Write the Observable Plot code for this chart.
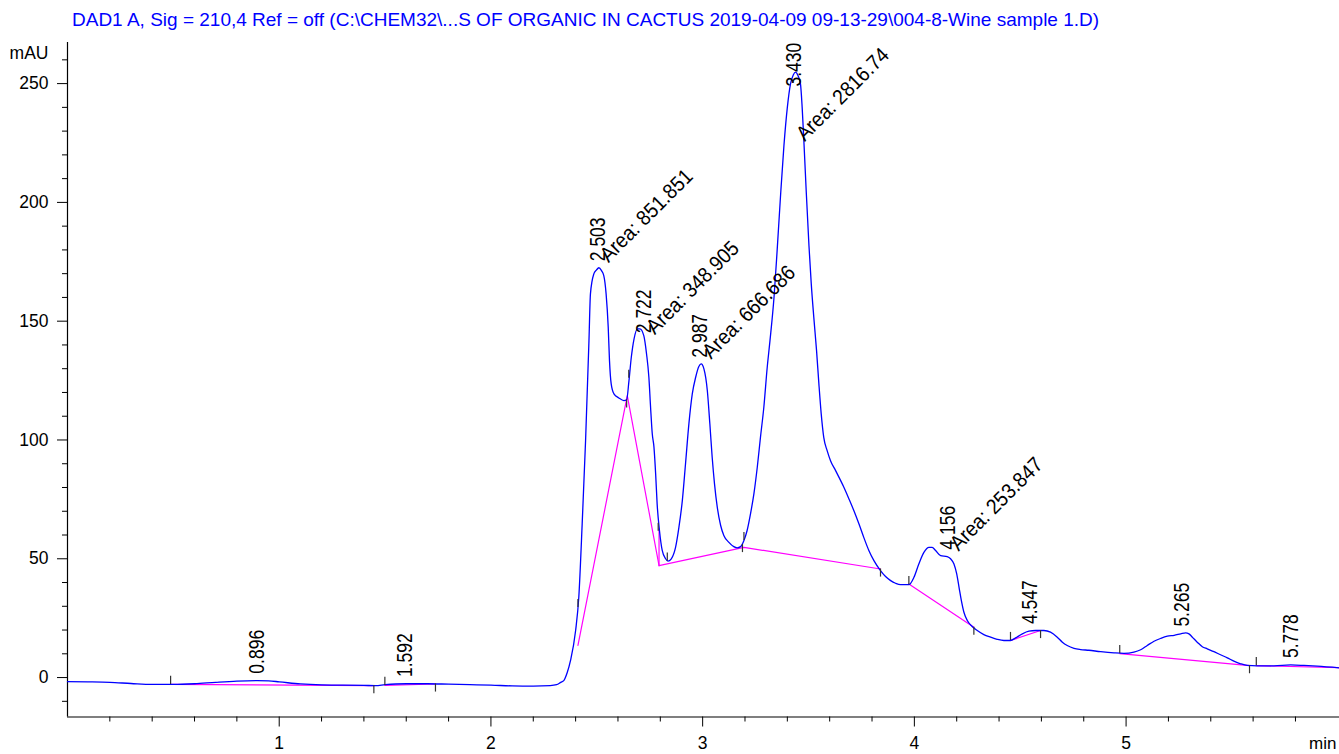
<!DOCTYPE html>
<html><head><meta charset="utf-8">
<script src="https://cdn.jsdelivr.net/npm/d3@7"></script>
<script src="https://cdn.jsdelivr.net/npm/@observablehq/plot@0.6"></script>
<style>
html,body{margin:0;padding:0;background:#fff;overflow:hidden;}
#title{height:34px;box-sizing:border-box;padding:10px 0 0 72px;font:19px "Liberation Sans",Arial,sans-serif;line-height:20px;color:#0000ff;white-space:nowrap;}
</style></head><body>
<div id="title"></div>
<div id="chart"></div>
<script>
// ---- signal (retention time in min, absorbance in mAU) ----
const signalTime = [0.00,0.10,0.20,0.30,0.40,0.50,0.60,0.70,0.80,0.896,0.95,1.00,1.10,1.20,1.30,1.40,1.455,1.50,1.55,1.60,1.70,1.80,1.90,2.00,2.10,2.20,2.28,2.31,2.33,2.344,2.36,2.376,2.40,2.415,2.431,2.447,2.463,2.470,2.486,2.498,2.510,2.522,2.533,2.544,2.554,2.560,2.568,2.581,2.604,2.628,2.641,2.652,2.663,2.676,2.692,2.704,2.722,2.735,2.746,2.754,2.762,2.770,2.778,2.785,2.796,2.809,2.825,2.836,2.852,2.872,2.888,2.904,2.919,2.935,2.951,2.967,2.982,2.993,3.006,3.022,3.034,3.045,3.056,3.069,3.085,3.100,3.124,3.147,3.163,3.179,3.195,3.210,3.226,3.242,3.258,3.273,3.289,3.305,3.318,3.337,3.352,3.368,3.384,3.400,3.415,3.428,3.439,3.450,3.462,3.470,3.478,3.489,3.502,3.513,3.525,3.538,3.549,3.560,3.572,3.588,3.604,3.628,3.667,3.691,3.714,3.738,3.761,3.785,3.809,3.840,3.864,3.888,3.911,3.935,3.974,3.998,4.021,4.045,4.069,4.084,4.100,4.124,4.155,4.171,4.187,4.200,4.211,4.222,4.234,4.250,4.273,4.297,4.328,4.360,4.391,4.423,4.454,4.478,4.510,4.541,4.573,4.612,4.643,4.675,4.699,4.722,4.754,4.785,4.824,4.880,4.943,4.990,5.037,5.069,5.100,5.132,5.164,5.195,5.227,5.258,5.281,5.297,5.313,5.336,5.360,5.383,5.415,5.446,5.478,5.509,5.541,5.572,5.619,5.698,5.777,5.840,5.903,6.008];
const signalMAU = [-1.7,-1.8,-2.0,-2.5,-2.9,-2.9,-2.6,-2.0,-1.5,-1.3,-1.4,-1.8,-2.7,-3.1,-3.2,-3.3,-3.4,-3.0,-2.7,-2.6,-2.6,-2.8,-3.0,-3.2,-3.5,-3.6,-3.4,-3.0,-2.0,-1.3,2.0,7.2,19.8,33.8,64.7,99.7,141.8,161.5,169.9,171.5,172.5,171.3,169.2,161.5,147.4,133.4,123.6,119.4,117.7,116.6,116.9,125.0,134.8,142.6,146.8,146.8,143.9,136.2,126.4,113.8,102.6,97.0,85.7,73.1,61.9,53.5,50.0,49.0,50.0,54.8,63.3,74.5,89.9,106.8,119.4,126.4,130.9,132.0,129.9,120.8,106.8,92.7,81.5,71.7,64.0,59.8,56.9,55.1,54.6,55.1,57.7,61.9,68.9,77.3,88.5,101.1,113.8,130.6,141.8,160.0,180.0,203.0,224.0,240.0,249.9,253.6,254.8,253.4,249.9,240.0,226.0,205.0,182.0,165.7,151.6,137.6,123.6,111.0,101.1,95.5,91.3,87.1,80.1,75.2,70.3,64.7,59.0,53.5,49.2,45.0,42.5,40.8,39.7,39.1,39.1,42.2,47.8,52.7,54.8,54.8,53.5,51.3,50.9,50.0,47.8,43.6,38.0,32.4,27.5,24.0,21.5,19.8,18.1,17.0,16.1,15.6,15.6,16.7,18.4,19.5,19.8,19.8,19.1,17.0,14.9,13.5,12.3,11.8,11.5,10.9,10.4,10.2,10.7,11.7,13.5,15.3,16.5,17.4,17.8,18.4,18.8,18.4,17.0,14.9,13.0,12.1,10.9,9.6,8.3,6.9,5.8,5.1,4.9,4.9,5.3,5.1,4.8,4.1];

// ---- integrated peaks ----
const peakRT     = [0.896, 1.592, 2.503, 2.722, 2.987, 3.430, 4.156, 4.547, 5.265, 5.778];
const peakLabel  = ["0.896","1.592","2.503","2.722","2.987","3.430","4.156","4.547","5.265","5.778"];
const peakHeight = [-1.3, -2.7, 172.3, 142.0, 131.7, 254.8, 50.9, 19.6, 18.5, 5.3];
const peakArea   = [null, null, "851.851", "348.905", "666.686", "2816.74", "253.847", null, null, null];

// ---- baselines drawn by the integrator ----
const baselineSeg  = [0,0, 1,1, 2,2,2,2,2, 3,3, 4,4, 5,5, 6,6, 7,7];
const baselineTime = [0.487,1.447, 1.499,1.738, 2.411,2.644,2.794,3.195,3.840, 3.974,4.281, 4.454,4.596, 4.970,5.583, 5.615,6.008, 2.794,2.794];
const baselineMAU  = [-2.9,-3.4, -3.3,-2.7, 13.5,118.7,47.1,54.8,45.7, 39.4,21.2, 15.6,19.8, 10.1,5.0, 5.0,4.2, 47.1,62.5];

// ---- peak start (+1) / end (-1) event marks ----
const eventTime = [0.487,1.447,1.499,1.738,2.411,2.641,2.651,2.790,2.833,3.188,3.195,3.840,3.974,4.281,4.454,4.596,4.970,5.583,5.615];
const eventMAU  = [-2.9,-3.4,-3.3,-2.7,29.5,116.9,126.0,65.0,49.0,56.0,57.7,45.7,39.1,21.2,15.6,19.8,10.1,5.0,5.0];
const eventDir  = [1,-1,1,-1,1,-1,1,-1,1,-1,1,-1,1,-1,1,-1,1,-1,1];

// ---- axes ----
const xTicks = [1, 2, 3, 4, 5];
const yTicks = [0, 50, 100, 150, 200, 250];
const xDomain = [0, 6.008];
const yDomain = [-16.6, 267.3];
const titleText = "DAD1 A, Sig = 210,4 Ref = off (C:\\CHEM32\\...S OF ORGANIC IN CACTUS 2019-04-09 09-13-29\\004-8-Wine sample 1.D)";
document.getElementById("title").textContent = titleText;

const signal = signalTime.map((t, i) => ({t, v: signalMAU[i]}));
const peaks = peakRT.map((rt, i) => ({rt, label: peakLabel[i], h: peakHeight[i], area: peakArea[i]}));
const baseline = baselineTime.map((t, i) => ({t, v: baselineMAU[i], seg: baselineSeg[i]}));
const events = eventTime.map((t, i) => ({t, v: eventMAU[i], dir: eventDir[i]}));

const xMinor = d3.range(1, 31).map(i => i / 5).filter(v => Math.abs(v - Math.round(v)) > 1e-6);
const yMinor = d3.range(-1, 27).map(i => i * 10).filter(v => v % 50 !== 0);
const tickLen = 3.4; // mAU
const yTop = yDomain[1];

const font = '"Liberation Sans", Arial, sans-serif';
const chart = Plot.plot({
  width: 1339, height: 720,
  marginTop: 8, marginBottom: 37.5, marginLeft: 67, marginRight: 0,
  x: {domain: xDomain, label: null},
  y: {domain: yDomain, label: null},
  style: {fontFamily: font, fontSize: "17.5px", color: "#000", background: "#fff"},
  marks: [
    Plot.axisY({ticks: yTicks, tickSize: 10, tickPadding: 9, label: null, fontSize: 17.5, tickFormat: d => String(d)}),
    Plot.axisY({ticks: yMinor, tickSize: 5, tickFormat: () => "", label: null}),
    Plot.axisX({ticks: xTicks, tickSize: 10, tickPadding: 10, label: null, fontSize: 17.5, tickFormat: d => String(d)}),
    Plot.axisX({ticks: xMinor, tickSize: 5, tickFormat: () => "", label: null}),
    Plot.ruleX([xDomain[0]], {stroke: "#000", strokeWidth: 1.2}),
    Plot.ruleY([yDomain[0]], {stroke: "#000", strokeWidth: 1.2}),
    Plot.line(baseline, {x: "t", y: "v", z: "seg", stroke: "#ff00ff", strokeWidth: 1.2}),
    Plot.line(signal, {x: "t", y: "v", stroke: "#0000ff", strokeWidth: 1.3, curve: "monotone-x"}),
    Plot.ruleX(events, {x: "t", y1: "v", y2: d => d.v + d.dir * tickLen, stroke: "#333", strokeWidth: 1.2}),
    Plot.text(peaks, {x: "rt", y: d => Math.min(d.h, yTop - 21.5), text: "label", rotate: -90,
      textAnchor: "start", dy: -7, fontSize: 17.5, fill: "#000", className: "rtlabel"}),
    Plot.text(peaks.filter(d => d.area), {x: "rt", y: d => Math.min(d.h, yTop - 44), text: d => "Area: " + d.area,
      rotate: -45, textAnchor: "start", lineAnchor: "bottom", dx: 11, dy: -5, fontSize: 19.3, fill: "#000", className: "arealabel"}),
    Plot.text(["mAU"], {x: xDomain[0], y: 260, text: d => d, textAnchor: "end", dx: -19, dy: -6, fontSize: 17.5}),
    Plot.text(["min"], {x: xDomain[1], y: yDomain[0], text: d => d, textAnchor: "end", dx: -3, dy: 27, fontSize: 17})
  ]
});
chart.querySelectorAll(".rtlabel text").forEach(t => t.setAttribute("transform", t.getAttribute("transform") + " scale(1,1.3)"));
chart.querySelectorAll(".arealabel text").forEach(t => t.setAttribute("transform", t.getAttribute("transform") + " scale(1,1.1)"));
document.getElementById("chart").appendChild(chart);
</script>
</body></html>
